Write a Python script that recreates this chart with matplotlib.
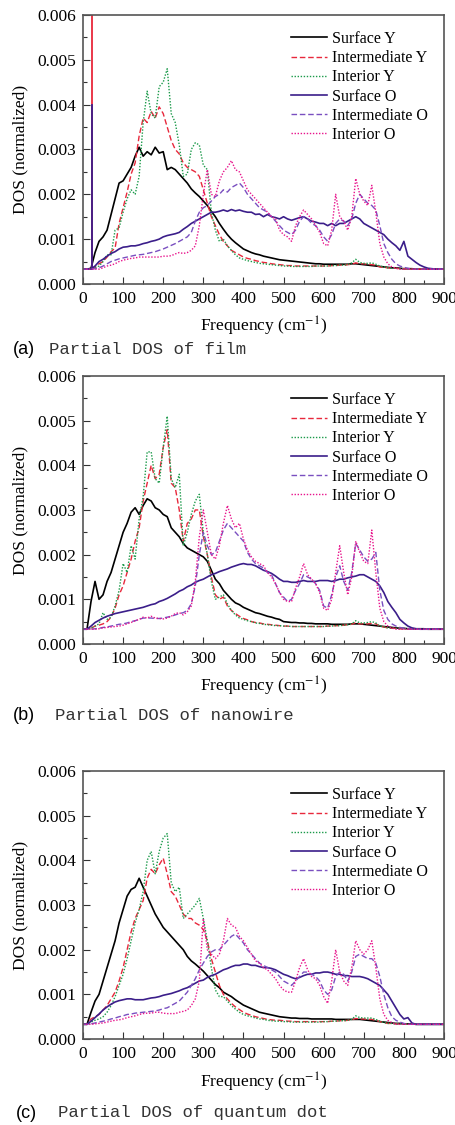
import numpy as np
import matplotlib
matplotlib.use("Agg")
import matplotlib.pyplot as plt
from matplotlib.ticker import MultipleLocator, FormatStrFormatter

plt.rcParams['font.family'] = ['Liberation Serif', 'DejaVu Serif']
plt.rcParams['mathtext.fontset'] = 'stix'

# grille en frequence (cm-1), valeurs de DOS en unites de 1e-3
freq = np.arange(0, 901, 10)

noms = ["Surface Y", "Intermediate Y", "Interior Y",
        "Surface O", "Intermediate O", "Interior O"]
couleurs = ["#000000", "#e8283c", "#1b9a4a", "#3b1e8a", "#7a4fc0", "#e8148c"]
styles = ["-", (0, (4, 2)), (0, (1, 1.2)), "-", (0, (4, 2)), (0, (1, 1.2))]
epaisseurs = [1.2, 1.0, 1.0, 1.2, 1.0, 1.0]

# ---- (a) film ----
sy_a = [0.33, 0.33, 0.35, 0.70, 0.95, 1.05, 1.20, 1.55, 1.90, 2.25,
        2.30, 2.45, 2.60, 2.85, 3.05, 2.85, 2.95, 2.88, 3.05, 2.92,
        2.95, 2.55, 2.60, 2.55, 2.45, 2.35, 2.25, 2.12, 2.03, 1.95,
        1.85, 1.75, 1.62, 1.50, 1.35, 1.22, 1.10, 1.00, 0.92, 0.85,
        0.78, 0.74, 0.70, 0.67, 0.65, 0.62, 0.60, 0.58, 0.56, 0.54,
        0.53, 0.52, 0.51, 0.50, 0.49, 0.48, 0.47, 0.46, 0.45, 0.45,
        0.44, 0.44, 0.44, 0.44, 0.44, 0.44, 0.44, 0.45, 0.45, 0.44,
        0.43, 0.42, 0.41, 0.40, 0.39, 0.38, 0.37, 0.36, 0.36, 0.35,
        0.34, 0.34, 0.34, 0.33, 0.33, 0.33, 0.33, 0.33, 0.33, 0.33, 0.33]
iy_a = [0.33, 0.33, 0.33, 0.38, 0.45, 0.50, 0.60, 0.72, 0.80, 1.35,
        1.70, 2.05, 2.45, 2.70, 3.30, 3.70, 3.60, 3.85, 3.70, 3.95,
        3.80, 3.50, 3.20, 3.00, 2.90, 2.70, 2.60, 2.55, 2.50, 2.40,
        2.10, 1.80, 1.50, 1.30, 1.10, 0.95, 0.85, 0.75, 0.70, 0.65,
        0.60, 0.57, 0.55, 0.52, 0.50, 0.48, 0.47, 0.45, 0.44, 0.43,
        0.42, 0.41, 0.41, 0.40, 0.40, 0.40, 0.40, 0.40, 0.40, 0.40,
        0.40, 0.40, 0.41, 0.41, 0.42, 0.42, 0.43, 0.44, 0.47, 0.45,
        0.45, 0.44, 0.43, 0.42, 0.38, 0.37, 0.36, 0.35, 0.35, 0.34,
        0.34, 0.34, 0.33, 0.33, 0.33, 0.33, 0.33, 0.33, 0.33, 0.33, 0.33]
ity_a = [0.33, 0.33, 0.34, 0.36, 0.40, 0.50, 0.65, 0.65, 1.20, 1.25,
         1.60, 1.90, 2.10, 2.00, 2.40, 3.60, 4.30, 3.80, 3.70, 4.40,
         4.50, 4.80, 3.80, 3.60, 3.10, 2.40, 2.45, 3.00, 3.15, 3.10,
         2.65, 2.55, 1.60, 1.20, 0.95, 1.00, 0.85, 0.75, 0.65, 0.58,
         0.55, 0.52, 0.50, 0.48, 0.46, 0.45, 0.44, 0.43, 0.42, 0.41,
         0.40, 0.40, 0.39, 0.39, 0.39, 0.39, 0.39, 0.39, 0.40, 0.40,
         0.40, 0.40, 0.41, 0.41, 0.42, 0.42, 0.43, 0.47, 0.55, 0.48,
         0.46, 0.46, 0.47, 0.44, 0.40, 0.38, 0.36, 0.35, 0.35, 0.34,
         0.34, 0.34, 0.33, 0.33, 0.33, 0.33, 0.33, 0.33, 0.33, 0.33, 0.33]
so_a = [0.33, 0.33, 0.33, 0.40, 0.50, 0.55, 0.62, 0.68, 0.72, 0.78,
        0.82, 0.83, 0.85, 0.85, 0.87, 0.90, 0.92, 0.95, 0.97, 1.00,
        1.05, 1.08, 1.10, 1.12, 1.15, 1.22, 1.28, 1.35, 1.40, 1.45,
        1.50, 1.55, 1.60, 1.60, 1.62, 1.65, 1.62, 1.66, 1.63, 1.65,
        1.62, 1.60, 1.60, 1.55, 1.56, 1.50, 1.55, 1.50, 1.48, 1.45,
        1.50, 1.45, 1.42, 1.45, 1.48, 1.50, 1.45, 1.40, 1.38, 1.35,
        1.35, 1.30, 1.35, 1.30, 1.35, 1.35, 1.40, 1.45, 1.50, 1.45,
        1.35, 1.30, 1.25, 1.20, 1.15, 1.10, 1.00, 0.92, 0.85, 0.75,
        0.95, 0.62, 0.55, 0.48, 0.42, 0.38, 0.35, 0.34, 0.33, 0.33, 0.33]
io_a = [0.33, 0.33, 0.33, 0.34, 0.36, 0.40, 0.45, 0.50, 0.53, 0.56,
        0.58, 0.60, 0.62, 0.64, 0.65, 0.66, 0.68, 0.70, 0.72, 0.75,
        0.78, 0.82, 0.86, 0.90, 0.95, 1.00, 1.05, 1.15, 1.40, 1.60,
        1.70, 1.75, 1.85, 1.95, 2.00, 2.10, 2.05, 2.15, 2.20, 2.25,
        2.15, 2.00, 1.90, 1.80, 1.70, 1.65, 1.60, 1.50, 1.40, 1.30,
        1.20, 1.15, 1.10, 1.20, 1.40, 1.50, 1.45, 1.35, 1.30, 1.20,
        1.05, 0.95, 1.10, 1.35, 1.45, 1.40, 1.30, 1.45, 1.80, 2.00,
        1.90, 1.80, 1.75, 1.65, 1.30, 0.90, 0.70, 0.55, 0.45, 0.40,
        0.37, 0.35, 0.33, 0.33, 0.33, 0.33, 0.33, 0.33, 0.33, 0.33, 0.33]
ito_a = [0.33, 0.33, 0.33, 0.33, 0.33, 0.36, 0.40, 0.42, 0.45, 0.50,
         0.53, 0.55, 0.57, 0.58, 0.60, 0.60, 0.60, 0.60, 0.60, 0.60,
         0.62, 0.62, 0.63, 0.67, 0.70, 0.68, 0.70, 0.75, 0.85, 1.30,
         2.00, 2.55, 2.00, 1.95, 2.30, 2.50, 2.60, 2.75, 2.55, 2.50,
         2.30, 2.10, 2.00, 1.90, 1.80, 1.70, 1.60, 1.50, 1.45, 1.20,
         1.10, 1.05, 0.95, 1.30, 1.50, 1.65, 1.55, 1.45, 1.30, 1.15,
         0.90, 0.85, 1.20, 2.00, 1.50, 1.40, 1.20, 1.50, 2.35, 2.00,
         1.85, 1.75, 2.20, 1.60, 0.90, 0.60, 0.45, 0.38, 0.35, 0.33,
         0.33, 0.33, 0.33, 0.33, 0.33, 0.33, 0.33, 0.33, 0.33, 0.33, 0.33]
# pic etroit a basse frequence dans le film
pic_freq_a = 22
pic_haut_a = {"Intermediate Y": 6.5, "Surface O": 4.0}

# ---- (b) nanowire ----
sy_b = [0.33, 0.33, 0.95, 1.40, 1.00, 1.10, 1.40, 1.60, 1.90, 2.20,
        2.50, 2.70, 2.95, 3.05, 2.90, 3.10, 3.25, 3.20, 3.05, 3.00,
        2.90, 2.85, 2.60, 2.50, 2.40, 2.25, 2.15, 2.10, 2.05, 2.00,
        1.95, 1.85, 1.65, 1.45, 1.35, 1.20, 1.10, 1.00, 0.92, 0.88,
        0.82, 0.78, 0.74, 0.70, 0.68, 0.65, 0.62, 0.60, 0.57, 0.55,
        0.50, 0.49, 0.48, 0.48, 0.47, 0.47, 0.46, 0.46, 0.45, 0.45,
        0.45, 0.45, 0.44, 0.44, 0.44, 0.44, 0.44, 0.45, 0.45, 0.45,
        0.44, 0.43, 0.42, 0.41, 0.40, 0.39, 0.38, 0.37, 0.36, 0.35,
        0.35, 0.34, 0.34, 0.34, 0.34, 0.34, 0.33, 0.33, 0.33, 0.33, 0.33]
iy_b = [0.33, 0.33, 0.35, 0.40, 0.42, 0.45, 0.50, 0.60, 0.80, 1.10,
        1.30, 1.60, 1.90, 2.30, 2.60, 3.20, 3.60, 4.00, 3.70, 3.80,
        4.40, 4.80, 3.60, 3.50, 3.00, 2.30, 2.70, 2.80, 3.00, 3.00,
        2.40, 2.00, 1.50, 1.10, 1.00, 1.05, 0.85, 0.75, 0.68, 0.62,
        0.57, 0.54, 0.50, 0.48, 0.47, 0.45, 0.44, 0.43, 0.42, 0.41,
        0.40, 0.40, 0.39, 0.39, 0.39, 0.39, 0.39, 0.39, 0.39, 0.39,
        0.39, 0.40, 0.40, 0.41, 0.41, 0.42, 0.43, 0.44, 0.48, 0.45,
        0.45, 0.45, 0.46, 0.45, 0.40, 0.38, 0.36, 0.35, 0.35, 0.34,
        0.34, 0.34, 0.33, 0.33, 0.33, 0.33, 0.33, 0.33, 0.33, 0.33, 0.33]
ity_b = [0.33, 0.33, 0.35, 0.40, 0.45, 0.70, 0.55, 0.60, 0.85, 1.20,
         1.80, 1.60, 2.20, 1.90, 2.80, 3.30, 4.30, 4.30, 3.70, 3.60,
         4.40, 5.10, 3.70, 3.50, 3.80, 2.20, 2.50, 2.90, 3.20, 3.35,
         2.50, 2.00, 1.40, 1.00, 1.05, 1.10, 0.90, 0.75, 0.65, 0.58,
         0.55, 0.52, 0.50, 0.47, 0.46, 0.44, 0.43, 0.42, 0.41, 0.41,
         0.40, 0.40, 0.39, 0.39, 0.39, 0.39, 0.39, 0.39, 0.39, 0.39,
         0.39, 0.40, 0.40, 0.41, 0.41, 0.42, 0.43, 0.45, 0.52, 0.47,
         0.47, 0.48, 0.50, 0.47, 0.40, 0.38, 0.36, 0.35, 0.35, 0.34,
         0.34, 0.34, 0.33, 0.33, 0.33, 0.33, 0.33, 0.33, 0.33, 0.33, 0.33]
so_b = [0.33, 0.33, 0.40, 0.48, 0.53, 0.58, 0.62, 0.65, 0.68, 0.70,
        0.72, 0.74, 0.76, 0.78, 0.80, 0.82, 0.85, 0.88, 0.90, 0.95,
        0.98, 1.02, 1.07, 1.12, 1.18, 1.22, 1.28, 1.32, 1.38, 1.42,
        1.45, 1.50, 1.55, 1.58, 1.62, 1.65, 1.68, 1.72, 1.75, 1.78,
        1.80, 1.78, 1.78, 1.75, 1.70, 1.65, 1.62, 1.58, 1.52, 1.45,
        1.40, 1.40, 1.38, 1.38, 1.40, 1.42, 1.40, 1.40, 1.40, 1.42,
        1.42, 1.42, 1.40, 1.42, 1.45, 1.45, 1.48, 1.50, 1.52, 1.55,
        1.55, 1.50, 1.45, 1.40, 1.30, 1.15, 0.95, 0.82, 0.70, 0.55,
        0.47, 0.40, 0.36, 0.34, 0.33, 0.33, 0.33, 0.33, 0.33, 0.33, 0.33]
io_b = [0.33, 0.33, 0.33, 0.34, 0.35, 0.37, 0.38, 0.40, 0.42, 0.44,
        0.45, 0.47, 0.50, 0.52, 0.55, 0.58, 0.58, 0.58, 0.57, 0.57,
        0.58, 0.60, 0.62, 0.65, 0.68, 0.70, 0.75, 0.90, 1.30, 2.00,
        2.50, 2.20, 2.00, 2.05, 2.30, 2.55, 2.70, 2.60, 2.50, 2.40,
        2.30, 2.05, 1.90, 1.80, 1.75, 1.70, 1.60, 1.55, 1.35, 1.15,
        1.05, 0.95, 1.00, 1.20, 1.35, 1.55, 1.50, 1.45, 1.35, 1.20,
        0.85, 0.80, 1.10, 1.50, 1.75, 1.40, 1.20, 1.60, 2.25, 2.10,
        1.95, 1.85, 1.90, 2.05, 1.20, 0.75, 0.55, 0.45, 0.40, 0.37,
        0.35, 0.34, 0.33, 0.33, 0.33, 0.33, 0.33, 0.33, 0.33, 0.33, 0.33]
ito_b = [0.33, 0.33, 0.33, 0.33, 0.34, 0.36, 0.37, 0.38, 0.39, 0.40,
         0.42, 0.45, 0.48, 0.52, 0.55, 0.60, 0.58, 0.62, 0.58, 0.57,
         0.56, 0.58, 0.62, 0.68, 0.70, 0.65, 0.72, 0.85, 1.40, 2.40,
         3.00, 2.50, 2.00, 1.90, 2.20, 2.70, 3.10, 2.80, 2.60, 2.70,
         2.35, 2.10, 1.95, 1.85, 1.80, 1.75, 1.60, 1.50, 1.35, 1.15,
         1.00, 0.95, 0.95, 1.25, 1.50, 1.80, 1.55, 1.45, 1.35, 1.15,
         0.80, 0.75, 1.00, 1.60, 2.20, 1.60, 1.10, 1.50, 2.30, 2.05,
         1.85, 1.80, 2.55, 1.60, 0.80, 0.50, 0.40, 0.36, 0.33, 0.33,
         0.33, 0.33, 0.33, 0.33, 0.33, 0.33, 0.33, 0.33, 0.33, 0.33, 0.33]

# ---- (c) quantum dot ----
sy_c = [0.33, 0.33, 0.60, 0.85, 1.00, 1.30, 1.60, 1.90, 2.20, 2.60,
        2.90, 3.20, 3.35, 3.40, 3.60, 3.40, 3.20, 3.00, 2.80, 2.65,
        2.50, 2.40, 2.30, 2.20, 2.10, 2.00, 1.85, 1.75, 1.68, 1.60,
        1.52, 1.42, 1.32, 1.22, 1.15, 1.05, 1.00, 0.95, 0.88, 0.82,
        0.76, 0.72, 0.68, 0.64, 0.60, 0.58, 0.56, 0.54, 0.52, 0.50,
        0.49, 0.48, 0.47, 0.47, 0.46, 0.46, 0.46, 0.45, 0.45, 0.45,
        0.45, 0.45, 0.45, 0.44, 0.44, 0.44, 0.44, 0.44, 0.44, 0.44,
        0.43, 0.42, 0.41, 0.40, 0.39, 0.38, 0.37, 0.36, 0.35, 0.35,
        0.34, 0.34, 0.34, 0.33, 0.33, 0.33, 0.33, 0.33, 0.33, 0.33, 0.33]
iy_c = [0.33, 0.33, 0.45, 0.50, 0.55, 0.65, 0.75, 0.90, 1.05, 1.30,
        1.60, 2.00, 2.40, 2.70, 2.90, 3.10, 3.60, 3.80, 3.70, 3.90,
        4.05, 3.70, 3.30, 3.20, 3.00, 2.80, 2.70, 2.70, 2.60, 2.55,
        2.45, 2.20, 1.80, 1.50, 1.20, 1.00, 0.90, 0.80, 0.72, 0.66,
        0.60, 0.56, 0.53, 0.50, 0.48, 0.46, 0.44, 0.43, 0.42, 0.42,
        0.41, 0.40, 0.40, 0.39, 0.39, 0.39, 0.39, 0.39, 0.39, 0.39,
        0.39, 0.39, 0.40, 0.40, 0.41, 0.41, 0.42, 0.43, 0.46, 0.45,
        0.45, 0.44, 0.44, 0.42, 0.39, 0.37, 0.35, 0.35, 0.34, 0.34,
        0.34, 0.33, 0.33, 0.33, 0.33, 0.33, 0.33, 0.33, 0.33, 0.33, 0.33]
ity_c = [0.33, 0.33, 0.38, 0.42, 0.45, 0.50, 0.60, 0.75, 0.95, 1.20,
         1.45, 1.80, 2.20, 2.60, 2.90, 3.30, 4.00, 4.20, 3.70, 4.20,
         4.50, 4.60, 3.50, 3.30, 3.40, 2.70, 2.80, 2.90, 3.00, 3.15,
         2.70, 2.20, 1.60, 1.10, 0.95, 0.95, 0.85, 0.75, 0.67, 0.60,
         0.55, 0.52, 0.50, 0.47, 0.45, 0.44, 0.42, 0.41, 0.40, 0.40,
         0.39, 0.39, 0.38, 0.38, 0.38, 0.38, 0.38, 0.38, 0.38, 0.38,
         0.39, 0.39, 0.40, 0.40, 0.41, 0.41, 0.42, 0.44, 0.52, 0.48,
         0.47, 0.47, 0.47, 0.44, 0.40, 0.37, 0.35, 0.35, 0.34, 0.34,
         0.34, 0.33, 0.33, 0.33, 0.33, 0.33, 0.33, 0.33, 0.33, 0.33, 0.33]
so_c = [0.33, 0.33, 0.40, 0.48, 0.56, 0.65, 0.72, 0.78, 0.83, 0.86,
        0.88, 0.90, 0.90, 0.88, 0.88, 0.88, 0.90, 0.92, 0.93, 0.95,
        0.98, 1.00, 1.02, 1.05, 1.08, 1.12, 1.15, 1.20, 1.25, 1.30,
        1.32, 1.38, 1.42, 1.45, 1.50, 1.55, 1.58, 1.62, 1.65, 1.65,
        1.68, 1.68, 1.65, 1.65, 1.62, 1.60, 1.60, 1.58, 1.55, 1.50,
        1.45, 1.42, 1.38, 1.35, 1.38, 1.42, 1.45, 1.45, 1.48, 1.48,
        1.50, 1.50, 1.48, 1.45, 1.45, 1.42, 1.42, 1.40, 1.40, 1.40,
        1.38, 1.35, 1.30, 1.25, 1.20, 1.10, 1.00, 0.85, 0.70, 0.55,
        0.45, 0.48, 0.36, 0.33, 0.33, 0.33, 0.33, 0.33, 0.33, 0.33, 0.33]
io_c = [0.33, 0.33, 0.34, 0.36, 0.38, 0.40, 0.42, 0.45, 0.47, 0.50,
        0.52, 0.55, 0.56, 0.58, 0.59, 0.60, 0.61, 0.62, 0.63, 0.65,
        0.68, 0.70, 0.75, 0.80, 0.85, 0.95, 1.05, 1.20, 1.35, 1.55,
        1.70, 1.85, 1.95, 2.00, 2.00, 2.10, 2.20, 2.30, 2.35, 2.25,
        2.15, 2.00, 1.90, 1.80, 1.70, 1.65, 1.60, 1.55, 1.50, 1.40,
        1.30, 1.25, 1.20, 1.30, 1.40, 1.50, 1.50, 1.45, 1.40, 1.30,
        1.10, 1.00, 1.10, 1.40, 1.50, 1.45, 1.30, 1.50, 1.85, 1.90,
        1.85, 1.80, 1.80, 1.70, 1.40, 1.00, 0.70, 0.50, 0.42, 0.38,
        0.35, 0.33, 0.33, 0.33, 0.33, 0.33, 0.33, 0.33, 0.33, 0.33, 0.33]
ito_c = [0.33, 0.33, 0.33, 0.34, 0.35, 0.36, 0.38, 0.40, 0.42, 0.43,
         0.45, 0.48, 0.50, 0.52, 0.55, 0.57, 0.58, 0.58, 0.60, 0.60,
         0.58, 0.57, 0.57, 0.57, 0.60, 0.62, 0.65, 0.75, 0.90, 1.30,
         2.70, 2.00, 1.90, 1.80, 1.90, 2.20, 2.70, 2.55, 2.50, 2.30,
         2.20, 2.05, 1.90, 1.75, 1.70, 1.60, 1.55, 1.45, 1.35, 1.20,
         1.10, 1.05, 1.05, 1.30, 1.60, 1.80, 1.55, 1.40, 1.35, 1.20,
         0.95, 0.80, 1.30, 2.00, 1.50, 1.30, 1.20, 1.60, 2.20, 2.00,
         1.90, 2.00, 2.20, 1.60, 0.90, 0.55, 0.42, 0.37, 0.33, 0.33,
         0.33, 0.33, 0.33, 0.33, 0.33, 0.33, 0.33, 0.33, 0.33, 0.33, 0.33]

panneaux = [
    ([sy_a, iy_a, ity_a, so_a, io_a, ito_a], "(a)", "Partial DOS of film"),
    ([sy_b, iy_b, ity_b, so_b, io_b, ito_b], "(b)", "Partial DOS of nanowire"),
    ([sy_c, iy_c, ity_c, so_c, io_c, ito_c], "(c)", "Partial DOS of quantum dot"),
]


def tracer(ax, series, pics=None):
    """
    Tracer un panneau de DOS partielle.

    Args:
        ax: axes matplotlib
        series (list): six courbes en unites de 1e-3
        pics (dict): pics etroits optionnels {nom: hauteur}
    """
    for nom, c, ls, lw, y in zip(noms, couleurs, styles, epaisseurs, series):
        ax.plot(freq, np.array(y) * 1e-3, color=c, linestyle=ls, lw=lw, label=nom)
        if pics and nom in pics:
            ax.plot([pic_freq_a, pic_freq_a], [0.33e-3, pics[nom] * 1e-3],
                    color=c, linestyle="-", lw=1.3)
    ax.set_xlim(0, 900)
    ax.set_ylim(0, 0.006)
    ax.xaxis.set_major_locator(MultipleLocator(100))
    ax.xaxis.set_minor_locator(MultipleLocator(50))
    ax.yaxis.set_major_locator(MultipleLocator(0.001))
    ax.yaxis.set_minor_locator(MultipleLocator(0.0005))
    ax.yaxis.set_major_formatter(FormatStrFormatter("%.3f"))
    ax.tick_params(which="both", direction="in", top=False, right=False,
                   labelsize=12.5, width=0.8, color="#333333")
    ax.tick_params(which="major", length=5, pad=5)
    ax.tick_params(which="minor", length=3)
    for s in ax.spines.values():
        s.set_color("#555555")
        s.set_linewidth(1.2)
    ax.set_xlabel("Frequency (cm$^{-1}$)", fontsize=12.5, labelpad=6)
    ax.set_ylabel("DOS (normalized)", fontsize=12.5, labelpad=6)
    ax.legend(loc="upper right", frameon=False, fontsize=11.5, handlelength=2.3,
              handletextpad=0.3, labelspacing=0.2, borderaxespad=0.6)


fig = plt.figure(figsize=(4.55, 11.25), dpi=100)
positions = [(0.1824, 0.7476, 0.7934, 0.2391),
             (0.1824, 0.4276, 0.7934, 0.2382),
             (0.1824, 0.0764, 0.7934, 0.2382)]
captions_y = [350, 715, 1113]
captions_x = [(13, 49), (13, 55), (16, 58)]

for i, (series, lettre, texte) in enumerate(panneaux):
    ax = fig.add_axes(positions[i])
    tracer(ax, series, pic_haut_a if i == 0 else None)
    y = 1 - captions_y[i] / 1125
    fig.text(captions_x[i][0] / 455, y, lettre, family=["Liberation Sans", "DejaVu Sans"],
             fontsize=13, va="center", ha="left")
    fig.text(captions_x[i][1] / 455, y, texte, family=["Liberation Mono", "DejaVu Sans Mono"],
             fontsize=12.4, va="center", ha="left", color="#333333")

fig.savefig("out.png", dpi=100)
